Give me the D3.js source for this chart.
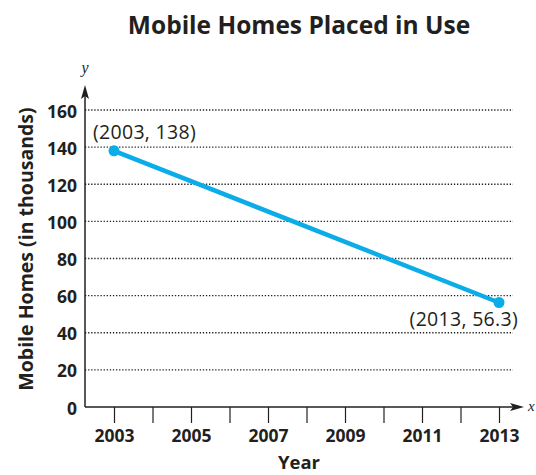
<!DOCTYPE html>
<html>
<head>
<meta charset="utf-8">
<script src="https://cdn.jsdelivr.net/npm/d3@7"></script>
<style>
  html, body { margin: 0; padding: 0; background: #fff; }
  svg { display: block; }
  text { font-family: "Open Sans", "Noto Sans", sans-serif; fill: #231f20; }
</style>
</head>
<body>
<svg id="chart" width="536" height="475"></svg>
<script>
// Mobile homes placed in use (thousands)
const years = [2003, 2013];
const homes = [138, 56.3];
const pointLabels = ["(2003, 138)", "(2013, 56.3)"];
const xTicks = [2003, 2004, 2005, 2006, 2007, 2008, 2009, 2010, 2011, 2012, 2013];
const xTickLabels = [2003, 2005, 2007, 2009, 2011, 2013];
const yTicks = [0, 20, 40, 60, 80, 100, 120, 140, 160];

const svg = d3.select("#chart");
const ink = "#231f20";
const lineColor = "#0aade8";

const axisX0 = 85, axisXEnd = 524, gridEnd = 513;
const x = d3.scaleLinear().domain([2003, 2013]).range([114, 499]);
const y = d3.scaleLinear().domain([0, 160]).range([407, 110]);

// Title
svg.append("text")
  .attr("x", 299).attr("y", 34)
  .attr("text-anchor", "middle")
  .style("font-size", "24.5px").style("font-weight", "700")
  .text("Mobile Homes Placed in Use");

// Dotted gridlines
svg.append("g").selectAll("line")
  .data(yTicks.filter(d => d > 0))
  .join("line")
  .attr("x1", axisX0).attr("x2", gridEnd)
  .attr("y1", d => y(d)).attr("y2", d => y(d))
  .attr("stroke", ink).attr("stroke-width", 1.3)
  .attr("stroke-dasharray", "1.3,1.8");

// Y tick labels
const gy = svg.append("g")
  .attr("transform", `translate(${axisX0 - 8},0)`)
  .call(d3.axisLeft(y).tickValues(yTicks).tickSize(0).tickPadding(0));
gy.select(".domain").remove();
gy.selectAll("text")
  .attr("dy", "0.4em")
  .style("font-family", "'Open Sans', sans-serif")
  .style("font-size", "17.5px").style("font-weight", "700")
  .attr("fill", ink);

// X ticks and labels
const gx = svg.append("g")
  .attr("transform", `translate(0,${y(0)})`)
  .call(d3.axisBottom(x).tickValues(xTicks).tickSize(16)
    .tickFormat(d => xTickLabels.includes(d) ? String(d) : ""));
gx.select(".domain").remove();
gx.selectAll("line").attr("stroke", ink).attr("stroke-width", 1.2);
gx.selectAll("text")
  .attr("y", 35).attr("dy", 0)
  .style("font-family", "'Open Sans', sans-serif")
  .style("font-size", "17.5px").style("font-weight", "700")
  .attr("fill", ink);

// Axis lines with arrowheads
svg.append("line")
  .attr("x1", axisX0).attr("x2", axisXEnd - 6)
  .attr("y1", y(0)).attr("y2", y(0))
  .attr("stroke", ink).attr("stroke-width", 1.5);
svg.append("path")
  .attr("d", `M${axisXEnd},${y(0)} L${axisXEnd - 14},${y(0) - 4} L${axisXEnd - 11},${y(0)} L${axisXEnd - 14},${y(0) + 4} Z`)
  .attr("fill", ink);
svg.append("line")
  .attr("x1", axisX0).attr("x2", axisX0)
  .attr("y1", y(0)).attr("y2", 92)
  .attr("stroke", ink).attr("stroke-width", 1.5);
svg.append("path")
  .attr("d", `M${axisX0},85 L${axisX0 - 4},99 L${axisX0},96 L${axisX0 + 4},99 Z`)
  .attr("fill", ink);

// Axis variable letters
svg.append("text").attr("x", 85).attr("y", 73)
  .attr("text-anchor", "middle")
  .style("font-family", "'Liberation Serif', serif").style("font-style", "italic")
  .style("font-size", "16px").text("y");
svg.append("text").attr("x", 528).attr("y", y(0) + 4)
  .style("font-family", "'Liberation Serif', serif").style("font-style", "italic")
  .style("font-size", "15px").text("x");

// Axis titles
svg.append("text")
  .attr("x", 299).attr("y", 469)
  .attr("text-anchor", "middle")
  .style("font-size", "18.5px").style("font-weight", "700")
  .text("Year");
svg.append("text")
  .attr("transform", "translate(33,249) rotate(-90)")
  .attr("text-anchor", "middle")
  .style("font-size", "19.5px").style("font-weight", "700")
  .text("Mobile Homes (in thousands)");

// Data line and points
const pts = years.map((yr, i) => ({ yr, v: homes[i], label: pointLabels[i] }));
svg.append("path")
  .datum(pts)
  .attr("fill", "none")
  .attr("stroke", lineColor).attr("stroke-width", 4.5)
  .attr("d", d3.line().x(d => x(d.yr)).y(d => y(d.v)));
svg.append("g").selectAll("circle")
  .data(pts).join("circle")
  .attr("cx", d => x(d.yr)).attr("cy", d => y(d.v))
  .attr("r", 5.5).attr("fill", lineColor);

// Point labels
svg.append("text")
  .attr("x", 93).attr("y", y(pts[0].v) - 12)
  .style("font-size", "19.5px").style("letter-spacing", "0.3px")
  .text(pts[0].label);
svg.append("text")
  .attr("x", 518).attr("y", y(pts[1].v) + 24)
  .attr("text-anchor", "end")
  .style("font-size", "19.5px").style("letter-spacing", "0.3px")
  .text(pts[1].label);
</script>
</body>
</html>
